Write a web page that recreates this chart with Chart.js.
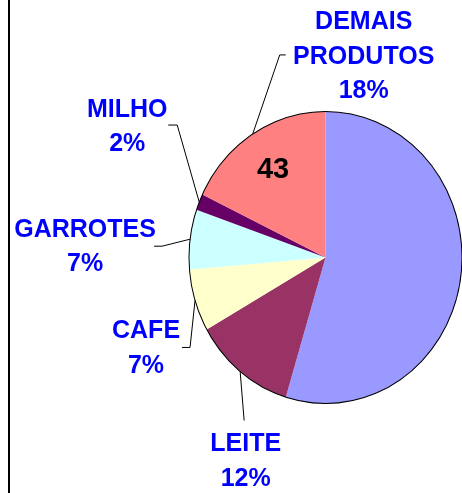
<!DOCTYPE html>
<html>
<head>
<meta charset="utf-8">
<script src="https://cdn.jsdelivr.net/npm/chart.js@4.4.1/dist/chart.umd.min.js"></script>
<style>
  html, body { margin: 0; padding: 0; background: #fff; }
  #wrap { position: relative; width: 462px; height: 493px; }
</style>
</head>
<body>
<div id="wrap"><canvas id="myChart" width="462" height="493"></canvas></div>
<script>
// slice names (first slice has no visible label in the picture)
const categories = ['', 'LEITE', 'CAFE', 'GARROTES', 'MILHO', 'DEMAIS\nPRODUTOS'];
// share of each slice
const values = [54.7, 12.1, 6.9, 6.6, 1.8, 17.9];
// value written inside a slice
const innerLabels = ['', '', '', '', '', '43'];
const colors = ['#9999FF', '#993366', '#FFFFCC', '#CCFFFF', '#660066', '#FF8080'];

const stretchY = 1.07; // the pie is a bit taller than wide
const labelFont = 'bold 25px "Liberation Sans", Arial, sans-serif';
const lineH = 34.5;

// leader: elbow offset from slice edge, short tick, then text block centre offset from tick end
const labelLayout = [
    null,
    { ex: 4, ey: 49, tick: 0, tx: 1.5, ty: 40 },
    { ex: -5, ey: 47, tick: -8, tx: -36, ty: 0 },
    { ex: -28, ey: 7, tick: -8, tx: -69, ty: 0 },
    { ex: -22, ey: -77, tick: -9, tx: -41, ty: 1 },
    { ex: 27, ey: -79, tick: 6, tx: 78, ty: 1 }
];

function edgePoint(arc, r, a) {
    return { x: arc.x + r * Math.cos(a), y: arc.y + r * stretchY * Math.sin(a) };
}

const ovalPlugin = {
    id: 'oval',
    beforeDatasetsDraw(chart) {
        const arc = chart.getDatasetMeta(0).data[0];
        const ctx = chart.ctx;
        ctx.save();
        ctx.translate(arc.x, arc.y);
        ctx.scale(1, stretchY);
        ctx.translate(-arc.x, -arc.y);
    },
    afterDatasetsDraw(chart) {
        const arc = chart.getDatasetMeta(0).data[0];
        const ctx = chart.ctx;
        ctx.beginPath();
        ctx.arc(arc.x, arc.y, arc.outerRadius, 0, Math.PI * 2);
        ctx.lineWidth = 1;
        ctx.strokeStyle = '#000';
        ctx.stroke();
        ctx.restore();
    },
    afterDraw(chart) {
        const ctx = chart.ctx;
        const arcs = chart.getDatasetMeta(0).data;
        const total = values.reduce((s, v) => s + v, 0);

        // left frame line
        ctx.save();
        ctx.fillStyle = '#000';
        ctx.fillRect(8, 0, 2, chart.height);

        arcs.forEach((arc, i) => {
            const mid = (arc.startAngle + arc.endAngle) / 2;

            if (innerLabels[i]) {
                const p = edgePoint(arc, arc.outerRadius * 0.72, mid);
                ctx.font = 'bold 29px "Liberation Sans", Arial, sans-serif';
                ctx.fillStyle = '#000';
                ctx.textAlign = 'center';
                ctx.textBaseline = 'middle';
                ctx.fillText(innerLabels[i], p.x, p.y + 1);
            }

            const lay = labelLayout[i];
            if (!lay || !categories[i]) return;
            const a = edgePoint(arc, arc.outerRadius, mid);
            const elbow = { x: a.x + lay.ex, y: a.y + lay.ey };
            const end = { x: elbow.x + lay.tick, y: elbow.y };

            ctx.beginPath();
            ctx.moveTo(a.x, a.y);
            ctx.lineTo(elbow.x, elbow.y);
            ctx.lineTo(end.x, end.y);
            ctx.lineWidth = 1;
            ctx.strokeStyle = '#000';
            ctx.stroke();

            const pct = Math.round(values[i] / total * 100) + '%';
            const lines = categories[i].split('\n').concat([pct]);
            const cx = end.x + lay.tx;
            const cy = end.y + lay.ty;
            ctx.font = labelFont;
            ctx.fillStyle = '#0000FF';
            ctx.textAlign = 'center';
            ctx.textBaseline = 'middle';
            lines.forEach((t, k) => {
                const y = cy + (k - (lines.length - 1) / 2) * lineH;
                ctx.fillText(t, cx, y + 1);
            });
        });
        ctx.restore();
    }
};

const ctx = document.getElementById('myChart').getContext('2d');
const myChart = new Chart(ctx, {
    type: 'pie',
    data: {
        labels: categories,
        datasets: [{
            data: values,
            backgroundColor: colors,
            borderWidth: 0,
            clip: false
        }]
    },
    options: {
        responsive: false,
        animation: false,
        events: [],
        radius: 136.5,
        layout: {
            padding: { left: 189, right: 0, top: 122, bottom: 100 }
        },
        plugins: {
            legend: { display: false },
            tooltip: { enabled: false }
        }
    },
    plugins: [ovalPlugin]
});
</script>
</body>
</html>
